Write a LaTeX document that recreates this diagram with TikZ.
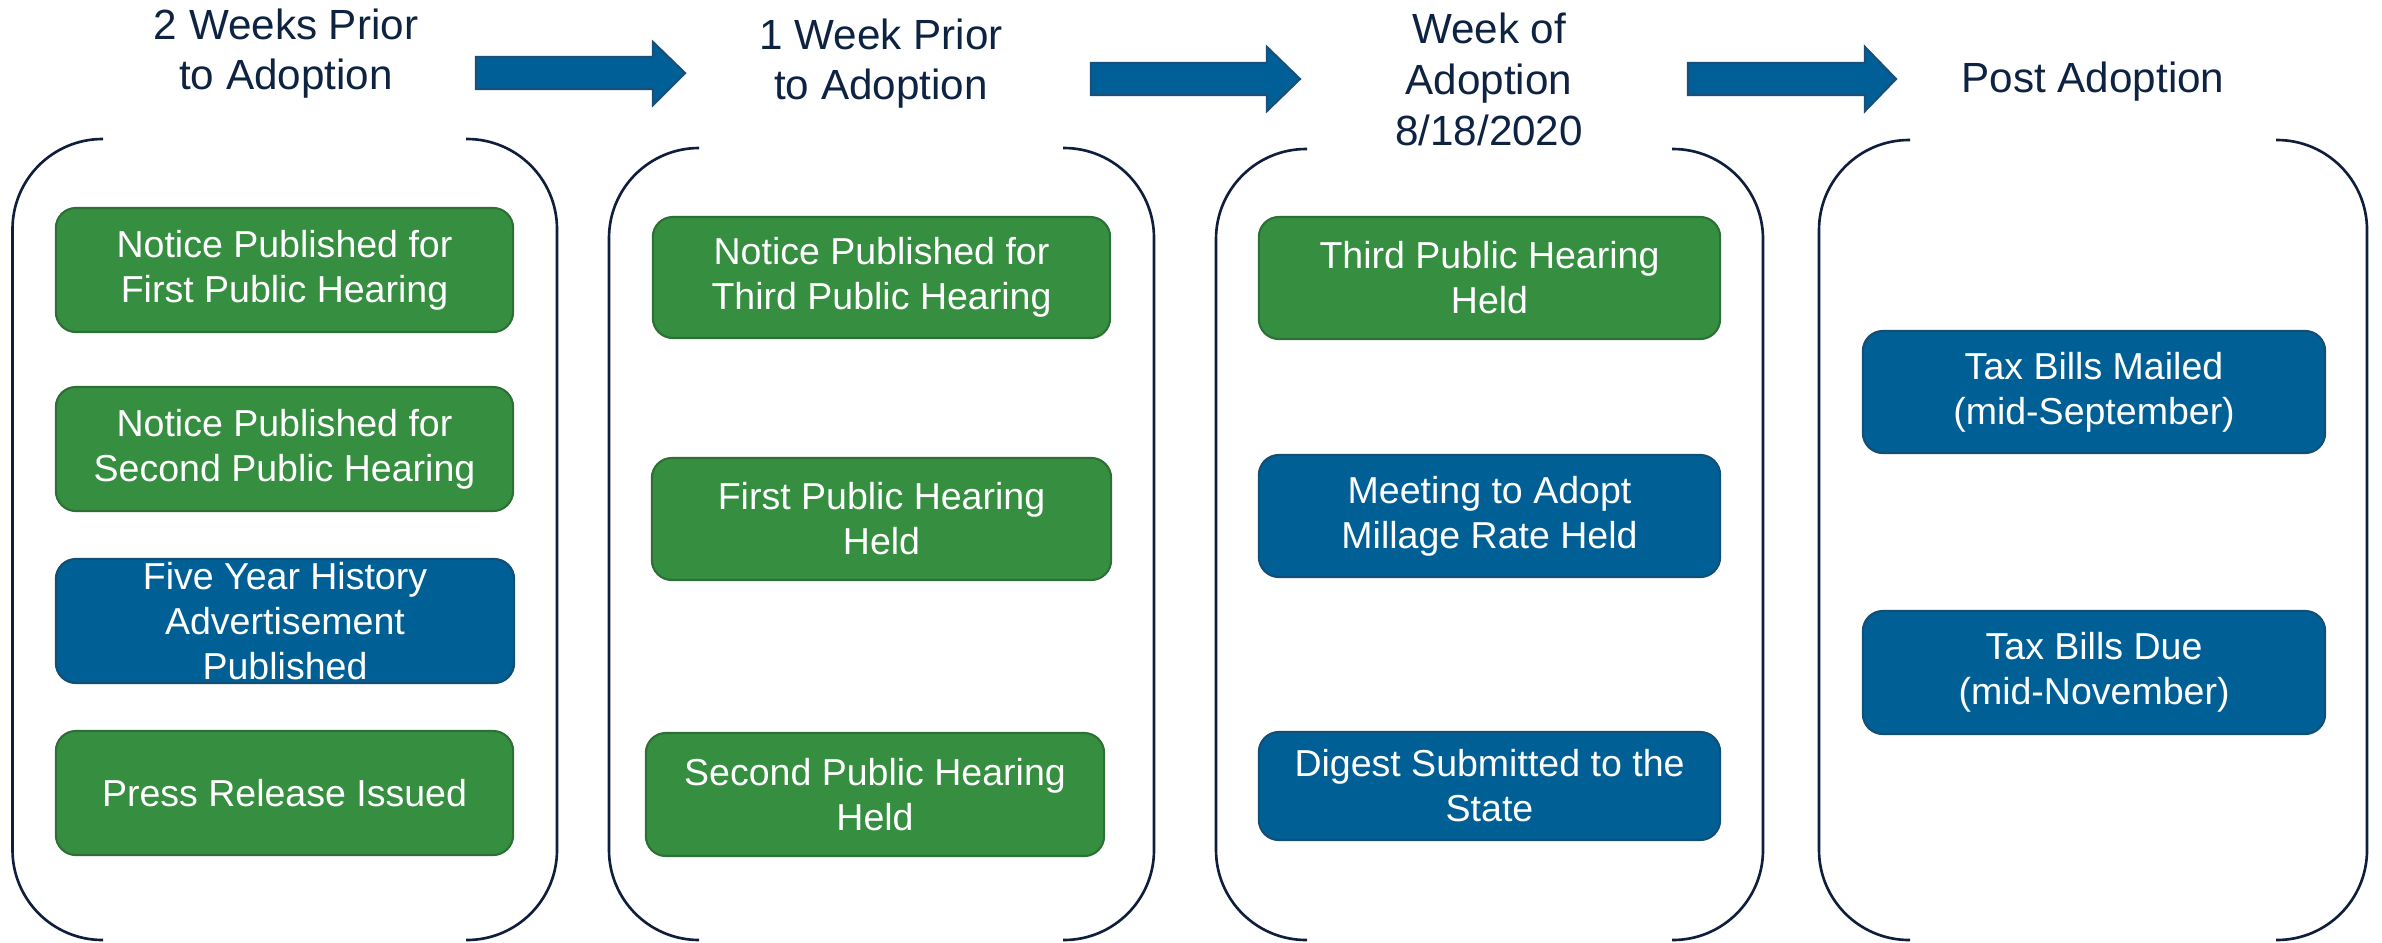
\documentclass[tikz,border=0pt]{standalone}
\usepackage{fontspec}
\setmainfont{Liberation Sans}
\definecolor{linec}{HTML}{0E1E3C}
\definecolor{titlec}{HTML}{0E2341}
\definecolor{gfill}{HTML}{368F41}
\definecolor{gdraw}{HTML}{2C7035}
\definecolor{bfill}{HTML}{006096}
\definecolor{bdraw}{HTML}{134E74}
\definecolor{afill}{HTML}{005F96}
\definecolor{adraw}{HTML}{1A4F7A}
\begin{document}
\begin{tikzpicture}[x=0.01cm,y=-0.01cm,
  bracket/.style={draw=linec, line width=0.75pt, rounded corners=0.9cm},
  title/.style={text=titlec, font=\fontsize{12}{14.2}\selectfont, align=center, inner sep=0pt},
  box/.style={rounded corners=0.2cm, line width=0.6pt, text=white, align=center, inner sep=0pt,
    font=\fontsize{10.67}{12.8}\selectfont, minimum height=1.23cm},
  gbox/.style={box, fill=gfill, draw=gdraw},
  bbox/.style={box, fill=bfill, draw=bdraw},
  blockarrow/.style={fill=afill, draw=adraw, line width=0.6pt}]
\useasboundingbox (0,0) rectangle (2382,942);

% brackets
\draw[bracket] (103,139) -- (12.5,139) -- (12.5,940) -- (103,940);
\draw[bracket] (466,139) -- (557,139) -- (557,940) -- (466,940);
\draw[bracket] (699,148) -- (609,148) -- (609,940) -- (699,940);
\draw[bracket] (1063,148) -- (1154,148) -- (1154,940) -- (1063,940);
\draw[bracket] (1307,149) -- (1216,149) -- (1216,940) -- (1307,940);
\draw[bracket] (1672,149) -- (1763,149) -- (1763,940) -- (1672,940);
\draw[bracket] (1910,140) -- (1819,140) -- (1819,940) -- (1910,940);
\draw[bracket] (2276,140) -- (2367,140) -- (2367,940) -- (2276,940);

% titles
\node[title] (t1) at (286,54) {2 Weeks Prior\\to Adoption};
\node[title] (t2) at (881,64) {1 Week Prior\\to Adoption};
\node[title, font=\fontsize{12}{14.5}\selectfont] (t3) at (1489,79) {Week of\\Adoption\\8/18/2020};
\node[title] (t4) at (2093,82) {Post Adoption};

% block arrows
\filldraw[blockarrow] (476,57) -- (653,57) -- (653,42) -- (685,73) -- (653,105) -- (653,89) -- (476,89) -- cycle;
\filldraw[blockarrow] (1091,63) -- (1267,63) -- (1267,47) -- (1300,79) -- (1267,111) -- (1267,95) -- (1091,95) -- cycle;
\filldraw[blockarrow] (1688,63) -- (1865,63) -- (1865,47) -- (1896,79) -- (1865,111) -- (1865,95) -- (1688,95) -- cycle;

% column 1
\node[gbox, minimum width=4.57cm, minimum height=1.24cm] (a1) at (284.5,270) {Notice Published for\\First Public Hearing};
\node[gbox, minimum width=4.57cm, minimum height=1.24cm] (a2) at (284.5,449) {Notice Published for\\Second Public Hearing};
\node[bbox, minimum width=4.58cm, minimum height=1.24cm] (a3) at (285,621) {Five Year History\\Advertisement\\Published};
\node[gbox, minimum width=4.57cm, minimum height=1.24cm] (a4) at (284.5,793) {Press Release Issued};

% column 2
\node[gbox, minimum width=4.57cm, minimum height=1.21cm] (b1) at (881.5,277.5) {Notice Published for\\Third Public Hearing};
\node[gbox, minimum width=4.59cm, minimum height=1.22cm] (b2) at (881.5,519) {First Public Hearing\\Held};
\node[gbox, minimum width=4.58cm, minimum height=1.23cm] (b3) at (875,794.5) {Second Public Hearing\\Held};

% column 3
\node[gbox, minimum width=4.61cm, minimum height=1.22cm] (c1) at (1489.5,278) {Third Public Hearing\\Held};
\node[bbox, minimum width=4.61cm, minimum height=1.22cm] (c2) at (1489.5,516) {Meeting to Adopt\\Millage Rate Held};
\node[bbox, minimum width=4.61cm, minimum height=1.08cm] (c3) at (1489.5,786) {Digest Submitted to the\\State};

% column 4
\node[bbox, minimum width=4.62cm, minimum height=1.22cm] (d1) at (2094,392) {Tax Bills Mailed\\(mid-September)};
\node[bbox, minimum width=4.62cm, minimum height=1.23cm] (d2) at (2094,672.5) {Tax Bills Due\\(mid-November)};
\end{tikzpicture}
\end{document}
